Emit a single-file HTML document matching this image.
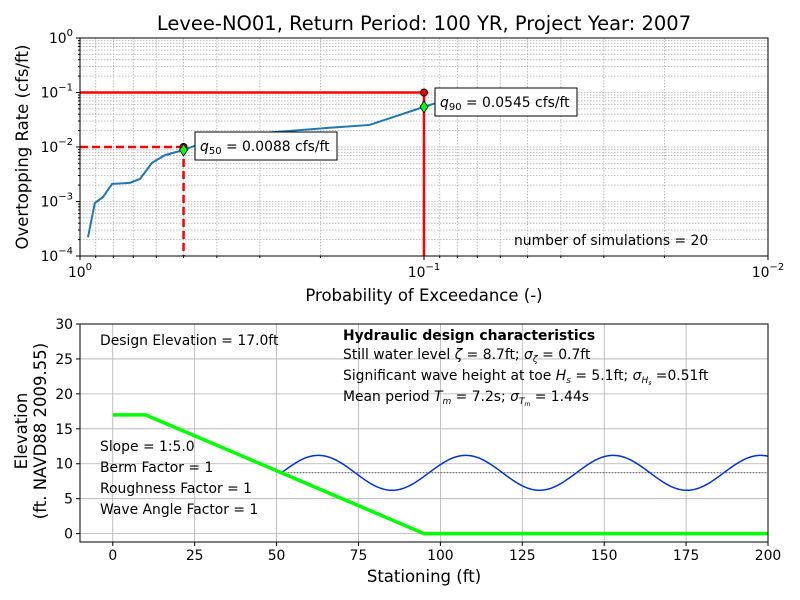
<!DOCTYPE html>
<html><head><meta charset="utf-8">
<style>
html,body{margin:0;padding:0;background:#fff;}
svg{display:block;font-family:"DejaVu Sans","Liberation Sans",sans-serif;}
</style></head>
<body>
<svg id="c" width="800" height="600" viewBox="0 0 800 600"></svg>
<script>
// ---- Top chart data ----
const probs = [0.948,0.905,0.857,0.807,0.716,0.669,0.618,0.566,0.5,0.419,0.32,0.188,0.144,0.1,0.09];
const rates = [0.00022,0.00094,0.00121,0.0021,0.0022,0.0026,0.0051,0.0071,0.0088,0.0134,0.0174,0.0225,0.0254,0.0545,0.067];
const q50 = 0.0088, p50 = 0.5;
const q90 = 0.0545, p90 = 0.1;
const yTickExp = [0,-1,-2,-3,-4];
const xTickExp = [0,-1,-2];
// ---- Bottom chart data ----
const levelStations = [0,10,95,200];
const levelElev = [17,17,0,0];
const swl = 8.7, waveAmp = 2.5, wavePeriod = 45, waveStart = 51.5;
const bxTicks = [0,25,50,75,100,125,150,175,200];
const byTicks = [0,5,10,15,20,25,30];

const FS=13.9;
const NS="http://www.w3.org/2000/svg";
const svg=document.getElementById('c');
function mk(tag,attrs,parent){const e=document.createElementNS(NS,tag);for(const k in attrs)e.setAttribute(k,attrs[k]);(parent||svg).appendChild(e);return e;}
function txt(s,x,y,attrs){const e=mk('text',Object.assign({x:x,y:y,'font-size':FS,fill:'#000'},attrs||{}));e.textContent=s;return e;}

const TL=80,TR=768,TT=38,TB=256;
const tx=p=>TL+(-Math.log10(p))*(TR-TL)/2;
const ty=q=>TT+(-Math.log10(q))*(TB-TT)/4;
const BL=80,BR=768,BT=324,BB=542;
const bx=s=>BL+(s+10)*(BR-BL)/210;
const by=v=>BB-(v+1.2)*(BB-BT)/31.2;

let t=txt('Levee-NO01, Return Period: 100 YR, Project Year: 2007',424,30,{'font-size':19.5,'text-anchor':'middle'});


const gTop=mk('g',{});

for(let d=0;d<2;d++)for(let m=1;m<10;m++){const v=Math.pow(10,-d-1)*m; const x=tx(v); if(x<TL||x>TR)continue; mk('line',{x1:x,x2:x,y1:TT,y2:TB,stroke:'#b0b0b0','stroke-width':0.8,'stroke-dasharray':'1.5,1.5'},gTop);}
for(let d=0;d<4;d++)for(let m=1;m<10;m++){const v=Math.pow(10,-d-1)*m;const y=ty(v);mk('line',{x1:TL,x2:TR,y1:y,y2:y,stroke:'#b0b0b0','stroke-width':0.8,'stroke-dasharray':'1.5,1.5'},gTop);}

let e=mk('line',{x1:TL,x2:tx(p90),y1:ty(0.1),y2:ty(0.1),stroke:'#ff0000','stroke-width':2.5});

e=mk('line',{x1:tx(p90),x2:tx(p90),y1:ty(0.1),y2:TB,stroke:'#ff0000','stroke-width':2.5});

e=mk('line',{x1:TL,x2:tx(p50),y1:ty(0.01),y2:ty(0.01),stroke:'#ff0000','stroke-width':2.5,'stroke-dasharray':'8,4'});

e=mk('line',{x1:tx(p50),x2:tx(p50),y1:ty(0.01),y2:TB,stroke:'#ff0000','stroke-width':2.5,'stroke-dasharray':'8,4'});


e=mk('polyline',{points:probs.map((p,i)=>tx(p)+','+ty(rates[i])).join(' '),fill:'none',stroke:'#1f77b4','stroke-width':2});


e=mk('circle',{cx:tx(p50),cy:ty(0.01),r:3.5,fill:'#ff0000',stroke:'#000','stroke-width':1});

e=mk('circle',{cx:tx(p90),cy:ty(0.1),r:3.5,fill:'#ff0000',stroke:'#000','stroke-width':1});

function diamond(x,y){return mk('polygon',{points:`${x},${y-6} ${x+4},${y} ${x},${y+6} ${x-4},${y}`,fill:'#00ff00',stroke:'#000','stroke-width':0.8});}
e=diamond(tx(p50),ty(q50));
e=diamond(tx(p90),ty(q90));

e=mk('rect',{x:195,y:132,width:142,height:28,fill:'#fff',stroke:'#000','stroke-width':1});

e=mk('text',{x:200,y:151,'font-size':FS});e.innerHTML='<tspan font-style="italic">q</tspan><tspan font-size="10" dy="3">50</tspan><tspan dy="-3"> = 0.0088 cfs/ft</tspan>';

e=mk('rect',{x:435,y:88,width:142,height:28,fill:'#fff',stroke:'#000','stroke-width':1});

e=mk('text',{x:440,y:107,'font-size':FS});e.innerHTML='<tspan font-style="italic">q</tspan><tspan font-size="10" dy="3">90</tspan><tspan dy="-3"> = 0.0545 cfs/ft</tspan>';

e=txt('number of simulations = 20',514,245);


e=mk('rect',{x:TL,y:TT,width:TR-TL,height:TB-TT,fill:'none',stroke:'#000','stroke-width':1});

yTickExp.forEach(k=>{const y=ty(Math.pow(10,k));mk('line',{x1:TL-4,x2:TL,y1:y,y2:y,stroke:'#000'});
 const l=mk('text',{x:TL-7,y:y+5,'font-size':FS,'text-anchor':'end'});l.innerHTML='10<tspan font-size="10" dy="-7">'+(k===0?'0':'\u2212'+(-k))+'</tspan>';
 });
for(let d=0;d<4;d++)for(let m=2;m<10;m++){const y=ty(Math.pow(10,-d-1)*m);mk('line',{x1:TL-2,x2:TL,y1:y,y2:y,stroke:'#000'});}
xTickExp.forEach(k=>{const x=tx(Math.pow(10,k));mk('line',{x1:x,x2:x,y1:TB,y2:TB+4,stroke:'#000'});
 const l=mk('text',{x:x,y:TB+21,'font-size':FS,'text-anchor':'middle'});l.innerHTML='10<tspan font-size="10" dy="-7">'+(k===0?'0':'\u2212'+(-k))+'</tspan>';
 });
for(let d=0;d<2;d++)for(let m=2;m<10;m++){const x=tx(Math.pow(10,-d-1)*m);mk('line',{x1:x,x2:x,y1:TB,y2:TB+2,stroke:'#000'});}
e=txt('Probability of Exceedance (-)',424,301,{'font-size':16.5,'text-anchor':'middle'});

e=txt('Overtopping Rate (cfs/ft)',28,147,{'font-size':16.5,'text-anchor':'middle',transform:'rotate(-90 28 147)'});


const gB=mk('g',{});
bxTicks.forEach(s=>mk('line',{x1:bx(s),x2:bx(s),y1:BT,y2:BB,stroke:'#b0b0b0','stroke-width':0.8},gB));
byTicks.forEach(v=>mk('line',{x1:BL,x2:BR,y1:by(v),y2:by(v),stroke:'#b0b0b0','stroke-width':0.8},gB));

e=mk('line',{x1:bx(waveStart),x2:bx(200),y1:by(swl),y2:by(swl),stroke:'#000','stroke-width':0.6,'stroke-dasharray':'2,1'});

const wp=[];for(let s=waveStart;s<=200.01;s+=0.5){wp.push(bx(s)+','+by(swl+waveAmp*Math.sin(2*Math.PI*(s-waveStart)/wavePeriod)));}
e=mk('polyline',{points:wp.join(' '),fill:'none',stroke:'#0033dd','stroke-width':1.5});

e=mk('polyline',{points:levelStations.map((s,i)=>bx(s)+','+by(levelElev[i])).join(' '),fill:'none',stroke:'#00ff00','stroke-width':3.5});


e=mk('rect',{x:BL,y:BT,width:BR-BL,height:BB-BT,fill:'none',stroke:'#000','stroke-width':1});

bxTicks.forEach(s=>{mk('line',{x1:bx(s),x2:bx(s),y1:BB,y2:BB+4,stroke:'#000'});const l=txt(String(s),bx(s),BB+18,{'text-anchor':'middle'});
 });
byTicks.forEach(v=>{mk('line',{x1:BL-4,x2:BL,y1:by(v),y2:by(v),stroke:'#000'});const l=txt(String(v),BL-7,by(v)+5,{'text-anchor':'end'});
 });
e=txt('Stationing (ft)',424,582,{'font-size':16.5,'text-anchor':'middle'});

e=mk('text',{x:0,y:0,'font-size':16.5,'text-anchor':'middle',transform:'translate(27 431) rotate(-90)'});
e.innerHTML='<tspan x="0" dy="0">Elevation</tspan><tspan x="0" dy="19">(ft. NAVD88 2009.55)</tspan>';


e=txt('Design Elevation = 17.0ft',100,345);
const params=['Slope = 1:5.0','Berm Factor = 1','Roughness Factor = 1','Wave Angle Factor = 1'];
params.forEach((s,i)=>{const l=txt(s,100,451+i*21);});
e=txt('Hydraulic design characteristics',343,340,{'font-weight':'bold'});

e=mk('text',{x:343,y:359,'font-size':FS});e.innerHTML='Still water level <tspan font-style="italic">ζ</tspan> = 8.7ft; <tspan font-style="italic">σ</tspan><tspan font-size="9" dy="3" font-style="italic">ζ</tspan><tspan dy="-3"> = 0.7ft</tspan>';

e=mk('text',{x:343,y:380,'font-size':FS});e.innerHTML='Significant wave height at toe <tspan font-style="italic">H</tspan><tspan font-size="9" dy="3" font-style="italic">s</tspan><tspan dy="-3"> = 5.1ft; </tspan><tspan font-style="italic">σ</tspan><tspan font-size="9" dy="3" font-style="italic">H</tspan><tspan font-size="6" dy="2" font-style="italic">s</tspan><tspan dy="-5"> =0.51ft</tspan>';

e=mk('text',{x:343,y:401,'font-size':FS});e.innerHTML='Mean period <tspan font-style="italic">T</tspan><tspan font-size="9" dy="3" font-style="italic">m</tspan><tspan dy="-3"> = 7.2s; </tspan><tspan font-style="italic">σ</tspan><tspan font-size="9" dy="3" font-style="italic">T</tspan><tspan font-size="6" dy="2" font-style="italic">m</tspan><tspan dy="-5"> = 1.44s</tspan>';

</script>
</body></html>
